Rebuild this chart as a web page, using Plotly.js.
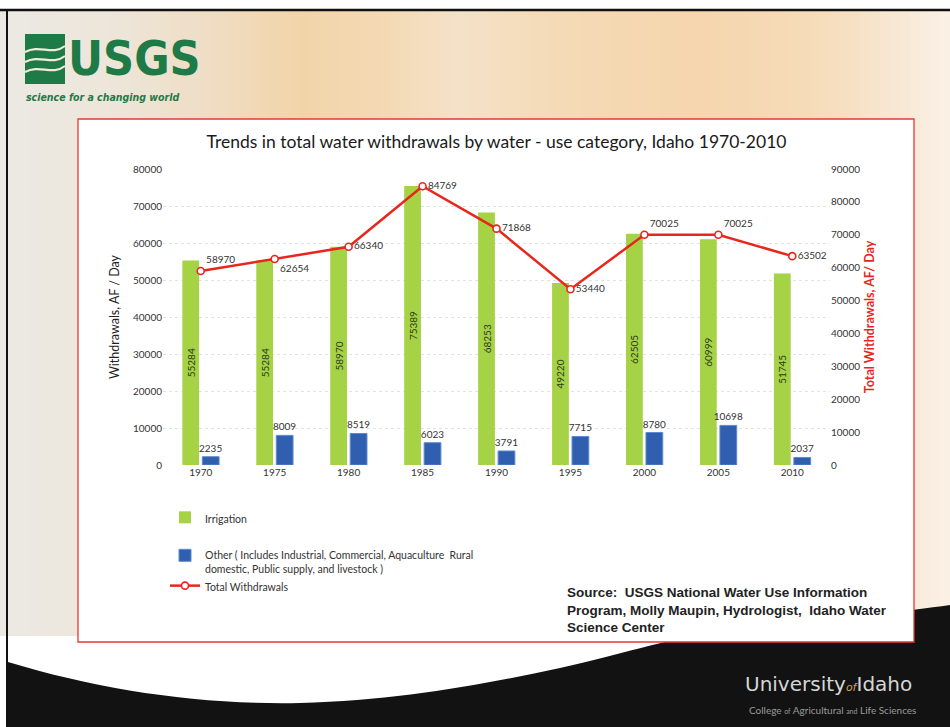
<!DOCTYPE html>
<html>
<head>
<meta charset="utf-8">
<script src="https://cdn.plot.ly/plotly-3.0.1.min.js"></script>
<style>html,body{margin:0;padding:0;background:#fff;}#chart{width:950px;height:727px;}</style>
</head>
<body>
<div id="chart"></div>
<script>
// ---- data ----
const years = ['1970','1975','1980','1985','1990','1995','2000','2005','2010'];
const irrigation = [55284, 55284, 58970, 75389, 68253, 49220, 62505, 60999, 51745];
const other = [2235, 8009, 8519, 6023, 3791, 7715, 8780, 10698, 2037];
const total = [58970, 62654, 66340, 84769, 71868, 53440, 70025, 70025, 63502];
const leftTicks = [0, 10000, 20000, 30000, 40000, 50000, 60000, 70000, 80000];
const rightTicks = [0, 10000, 20000, 30000, 40000, 50000, 60000, 70000, 80000, 90000];
const seriesNames = ['Irrigation',
  'Other ( Includes Industrial, Commercial, Aquaculture  Rural<br>domestic, Public supply, and livestock )',
  'Total Withdrawals'];

// ---- layout helpers (pixel -> paper) ----
const L = 163, T = 169, W = 667, H = 296;
const fx = px => (px - L) / W;
const fy = py => (T + H - py) / H;
const totalLabelPos = ['top right','bottom right','middle right','middle right','middle right','middle right','top right','top right','middle right'];

const chartFont = 'Lato, "Open Sans", sans-serif';

const traces = [
  {
    type: 'bar', name: seriesNames[0], x: years, y: irrigation,
    marker: {color: '#a6d245'},
    text: irrigation.map(String), textposition: 'inside', textangle: -90,
    insidetextanchor: 'middle', constraintext: 'none',
    insidetextfont: {family: chartFont, size: 10, color: '#2c3a1c'},
    legend: 'legend', showlegend: true, hoverinfo: 'x+y'
  },
  {
    type: 'bar', name: seriesNames[1], x: years, y: other,
    marker: {color: '#2f5fae', line: {color: '#5d8ad0', width: 1}},
    text: other.map(String), textposition: 'outside', cliponaxis: false, constraintext: 'none',
    outsidetextfont: {family: chartFont, size: 10, color: '#333'},
    legend: 'legend2', legendgroup: 'b', showlegend: true, hoverinfo: 'x+y'
  },
  {
    type: 'scatter', mode: 'lines+markers+text', name: seriesNames[2],
    x: years, y: total, yaxis: 'y2',
    line: {color: '#e8261c', width: 2.5},
    marker: {symbol: 'circle', size: 7, color: '#ffffff', line: {color: '#e8261c', width: 1.6}},
    text: total.map(String), textposition: totalLabelPos,
    textfont: {family: chartFont, size: 10, color: '#333'}, cliponaxis: false,
    legend: 'legend2', legendgroup: 'c', showlegend: true
  }
];

// background: smooth slide gradient approximated by thin bands
const gradStops = [[0,'#ece9e4'],[120,'#ede5d8'],[220,'#f0dcc2'],[300,'#f2d4a8'],[380,'#f3d9b4'],[460,'#f4e2c8'],[560,'#f4dab6'],[700,'#f5d6ad'],[820,'#f6dcba'],[900,'#f8e8d5'],[950,'#faf1e6']];
const hex2rgb = h => [parseInt(h.slice(1,3),16), parseInt(h.slice(3,5),16), parseInt(h.slice(5,7),16)];
function gradAt(x) {
  for (let i = 0; i < gradStops.length - 1; i++) {
    const a = gradStops[i], b = gradStops[i+1];
    if (x >= a[0] && x <= b[0]) {
      const t = (x - a[0]) / (b[0] - a[0]);
      const ca = hex2rgb(a[1]), cb = hex2rgb(b[1]);
      return 'rgb(' + ca.map((v, k) => Math.round(v + (cb[k] - v) * t)).join(',') + ')';
    }
  }
  return gradStops[gradStops.length - 1][1];
}
const shapes = [];
const bandW = 10;
for (let x = 0; x < 950; x += bandW) {
  shapes.push({type: 'rect', xref: 'paper', yref: 'paper', layer: 'below',
    x0: fx(x), x1: fx(x + bandW + 0.6), y0: fy(648), y1: fy(11),
    fillcolor: gradAt(x + bandW / 2), line: {width: 0}});
}
// black wave at bottom
const wavePts = [[8,727],[8,662],[100,690],[200,705],[300,703],[400,700],[480,685],[560,668],[620,655],[660,640],[720,632],[820,622],[900,612],[950,605],[950,727]];
const P = p => fx(p[0]) + ',' + fy(p[1]);
const wavePath = 'M' + P(wavePts[0]) + ' L' + P(wavePts[1]) +
  ' C' + P(wavePts[2]) + ' ' + P(wavePts[3]) + ' ' + P(wavePts[4]) +
  ' C' + P(wavePts[5]) + ' ' + P(wavePts[6]) + ' ' + P(wavePts[7]) +
  ' C' + P(wavePts[8]) + ' ' + P(wavePts[9]) + ' ' + P(wavePts[10]) +
  ' C' + P(wavePts[11]) + ' ' + P(wavePts[12]) + ' ' + P(wavePts[13]) +
  ' L' + P(wavePts[14]) + ' Z';
// white area between box and wave on the left
shapes.push({type: 'rect', xref: 'paper', yref: 'paper', layer: 'below',
  x0: fx(0), x1: fx(700), y0: fy(727), y1: fy(636), fillcolor: '#ffffff', line: {width: 0}});
shapes.push({type: 'path', xref: 'paper', yref: 'paper', layer: 'below', path: wavePath, fillcolor: '#121212', line: {width: 0}});
// chart box
shapes.push({type: 'rect', xref: 'paper', yref: 'paper', layer: 'below',
  x0: fx(78), x1: fx(914), y0: fy(642), y1: fy(119), fillcolor: '#ffffff', line: {color: '#e63a32', width: 1.3}});
// slide frame lines
shapes.push({type: 'line', xref: 'paper', yref: 'paper', x0: fx(0), x1: fx(950), y0: fy(10), y1: fy(10), line: {color: '#111', width: 2.5}});
shapes.push({type: 'line', xref: 'paper', yref: 'paper', x0: fx(7), x1: fx(7), y0: fy(10), y1: fy(727), line: {color: '#111', width: 2}});
// USGS icon
shapes.push({type: 'rect', xref: 'paper', yref: 'paper', x0: fx(25), x1: fx(65), y0: fy(84), y1: fy(34), fillcolor: '#1e7a46', line: {width: 0}});
const iconWaves = [[25,52,40,44,52,56,65,46],[25,62,40,54,52,66,65,56],[25,72,40,64,52,76,65,66]];
iconWaves.forEach(w => {
  shapes.push({type: 'path', xref: 'paper', yref: 'paper',
    path: 'M' + fx(w[0]) + ',' + fy(w[1]) + ' C' + fx(w[2]) + ',' + fy(w[3]) + ' ' + fx(w[4]) + ',' + fy(w[5]) + ' ' + fx(w[6]) + ',' + fy(w[7]),
    line: {color: '#f3ead8', width: 2.2}});
});

const annotations = [
  {xref: 'paper', yref: 'paper', x: fx(66), y: fy(58), xanchor: 'left', yanchor: 'middle', showarrow: false,
   text: '<b>USGS</b>', font: {family: '"Liberation Sans Narrow", "DejaVu Sans Condensed", sans-serif', size: 48, color: '#1e7a46'}},
  {xref: 'paper', yref: 'paper', x: fx(24), y: fy(97), xanchor: 'left', yanchor: 'middle', showarrow: false,
   text: '<b><i>science for a changing world</i></b>', font: {family: '"Liberation Sans Narrow", "DejaVu Sans Condensed", sans-serif', size: 10.5, color: '#1e7a46'}},
  {xref: 'paper', yref: 'paper', x: fx(565), y: fy(583), xanchor: 'left', yanchor: 'top', align: 'left', showarrow: false,
   text: '<b>Source:  USGS National Water Use Information<br>Program, Molly Maupin, Hydrologist,  Idaho Water<br>Science Center</b>',
   font: {family: '"Liberation Sans", Arial, sans-serif', size: 13.5, color: '#222'}},
  {xref: 'paper', yref: 'paper', x: fx(828), y: fy(684), xanchor: 'center', yanchor: 'middle', showarrow: false,
   text: 'University<span style="font-size:11px;color:#c9a44a"><i>of</i></span>Idaho',
   font: {family: '"DejaVu Sans", sans-serif', size: 20, color: '#d6d6d6'}},
  {xref: 'paper', yref: 'paper', x: fx(832), y: fy(710), xanchor: 'center', yanchor: 'middle', showarrow: false,
   text: 'College <span style="font-size:7px">of</span> Agricultural <span style="font-size:7px">and</span> Life Sciences',
   font: {family: chartFont, size: 10, color: '#9a9a9a'}}
];

const layout = {
  width: 950, height: 727, autosize: false, showlegend: true,
  margin: {l: L, r: 950 - L - W, t: T, b: 727 - T - H, pad: 0},
  paper_bgcolor: '#ffffff', plot_bgcolor: 'rgba(0,0,0,0)',
  font: {family: chartFont, size: 10, color: '#333'},
  title: {text: 'Trends in total water withdrawals by water - use category, Idaho 1970-2010',
    xref: 'paper', x: 0.5, xanchor: 'center', yref: 'container', y: 1 - 142/727, yanchor: 'middle',
    font: {family: chartFont, size: 17.5, color: '#1a1a1a'}},
  barmode: 'group', bargap: 0.46, bargroupgap: 0.16,
  xaxis: {type: 'category', showgrid: false, showline: false, zeroline: false, ticks: '',
    tickfont: {family: chartFont, size: 10, color: '#333'}, automargin: false},
  yaxis: {range: [0, 80000], tickvals: leftTicks, ticktext: leftTicks.map(String), showgrid: true,
    gridcolor: '#e2e2e2', griddash: 'dot', gridwidth: 1, zeroline: false, showline: false, ticks: '',
    tickfont: {family: chartFont, size: 10, color: '#333'}, automargin: false,
    title: {text: 'Withdrawals, AF / Day', standoff: 10, font: {family: chartFont, size: 12.5, color: '#222'}}},
  yaxis2: {overlaying: 'y', side: 'right', range: [0, 90000], tickvals: rightTicks, ticktext: rightTicks.map(String),
    showgrid: false, zeroline: false, showline: false, ticks: '', automargin: false,
    tickfont: {family: chartFont, size: 10, color: '#333'},
    title: {text: '<b>Total Withdrawals, AF/ Day</b>', standoff: 6, font: {family: chartFont, size: 12.5, color: '#e8261c'}}},
  legend: {x: fx(165), y: fy(504), xanchor: 'left', yanchor: 'top', orientation: 'v', valign: 'top', visible: true,
    bgcolor: 'rgba(0,0,0,0)', font: {family: chartFont, size: 10.5, color: '#333'}},
  legend2: {x: fx(165), y: fy(542), xanchor: 'left', yanchor: 'top', orientation: 'v', valign: 'top', visible: true,
    traceorder: 'normal', tracegroupgap: 14, bgcolor: 'rgba(0,0,0,0)', font: {family: chartFont, size: 10.5, color: '#333'}},
  shapes: shapes,
  annotations: annotations
};

Plotly.newPlot('chart', traces, layout, {displayModeBar: false, staticPlot: true});
</script>
</body>
</html>
